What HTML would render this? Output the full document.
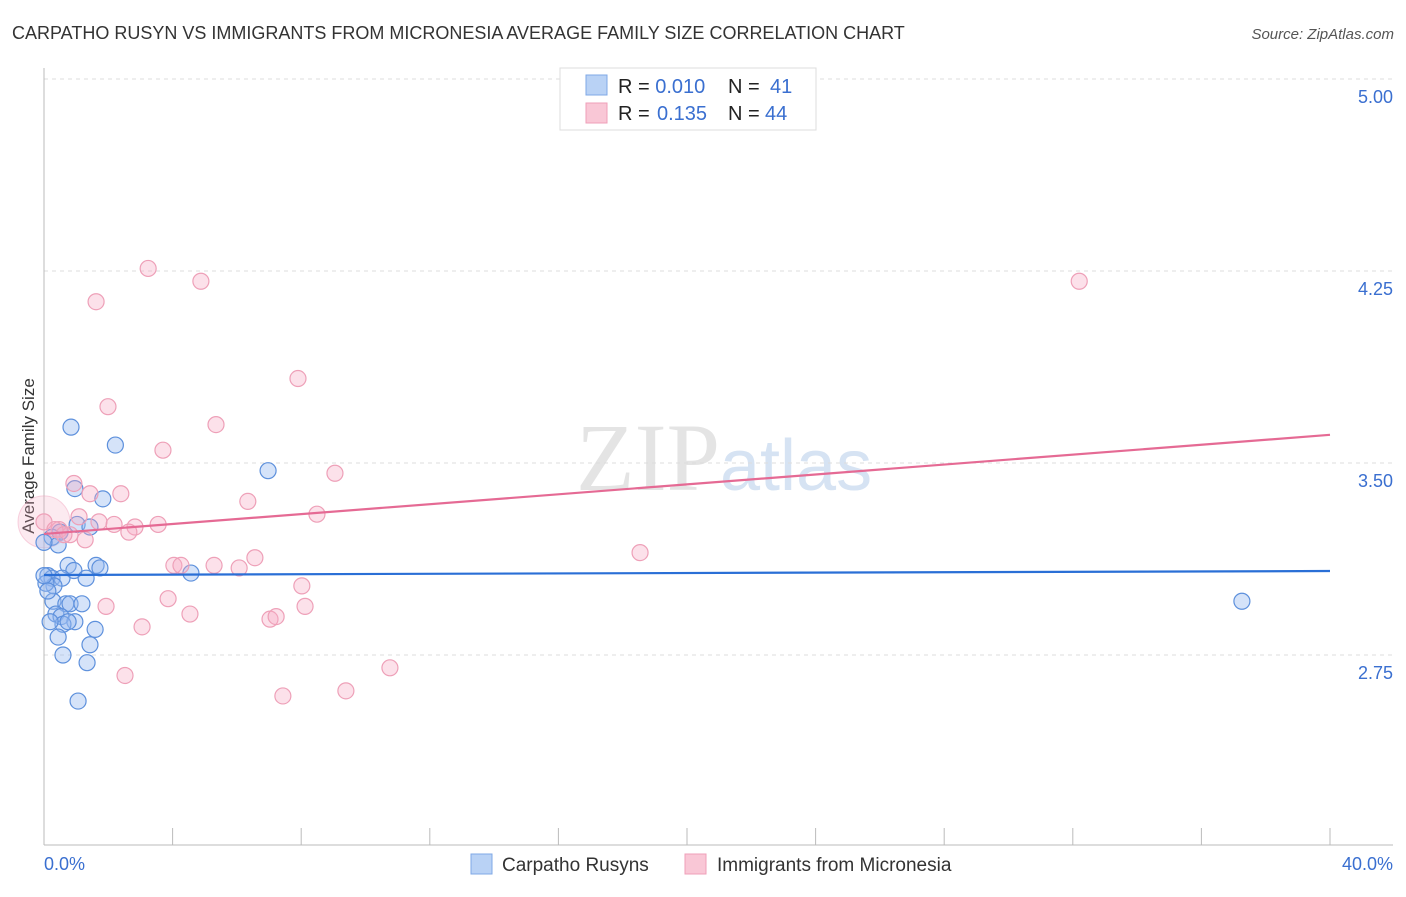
<!DOCTYPE html>
<html><head><meta charset="utf-8"><style>
body{margin:0;background:#fff;font-family:"Liberation Sans",sans-serif}
</style></head><body>
<svg width="1406" height="892" xmlns="http://www.w3.org/2000/svg" font-family="Liberation Sans, sans-serif">
<text x="12" y="39" font-size="18" fill="#333">CARPATHO RUSYN VS IMMIGRANTS FROM MICRONESIA AVERAGE FAMILY SIZE CORRELATION CHART</text>
<text x="1394" y="39" font-size="15" fill="#555" font-style="italic" text-anchor="end">Source: ZipAtlas.com</text>
<text x="720" y="490" font-size="96" fill="#e4e4e4" text-anchor="end" font-family="Liberation Serif, serif">ZIP</text>
<text x="720" y="490" font-size="72" fill="#d6e3f3">atlas</text>
<g id="grid"></g>
<line x1="44" y1="68" x2="44" y2="845" stroke="#bbb"/>
<line x1="44" y1="845" x2="1393" y2="845" stroke="#bbb"/>
<g id="xt"></g>
<text x="34" y="456" font-size="17" fill="#333" text-anchor="middle" transform="rotate(-90 34 456)">Average Family Size</text>
<text x="44" y="870" font-size="18" fill="#3a6fd0">0.0%</text>
<text x="1393" y="870" font-size="18" fill="#3a6fd0" text-anchor="end">40.0%</text>
<g id="pts"></g>
<g>
<rect x="560" y="68" width="256" height="62" fill="#fff" stroke="#ddd"/>
<rect x="586" y="75" width="21" height="20" fill="#b9d2f5" stroke="#7fa8e6"/>
<rect x="586" y="103" width="21" height="20" fill="#f9c7d6" stroke="#ef9fb8"/>
<text x="618" y="93" font-size="20" fill="#222">R = <tspan fill="#3a6fd0">0.010</tspan><tspan x="728">N = </tspan><tspan x="770" fill="#3a6fd0">41</tspan></text>
<text x="618" y="120" font-size="20" fill="#222">R = <tspan x="657" fill="#3a6fd0">0.135</tspan><tspan x="728">N = </tspan><tspan x="765" fill="#3a6fd0">44</tspan></text>
</g>
<g>
<rect x="471" y="854" width="21" height="20" fill="#b9d2f5" stroke="#7fa8e6"/>
<text x="502" y="871" font-size="19" fill="#333">Carpatho Rusyns</text>
<rect x="685" y="854" width="21" height="20" fill="#f9c7d6" stroke="#ef9fb8"/>
<text x="717" y="871" font-size="19" fill="#333">Immigrants from Micronesia</text>
</g>
</svg>
<script>
const yTicks=[5.00,4.25,3.50,2.75];
const xTickPcts=[0,5,10,15,20,25,30,35,40,45,50];
const blueX=[0.84,2.22,6.97,0.96,1.83,1.03,1.43,0.5,0.25,0.44,0,1.62,0.75,0.93,1.74,4.57,0.12,0.25,1.31,0.56,0.31,0.06,0.28,0.68,0.81,0.37,0.53,0.96,0.59,1.59,1.43,0.59,1.34,1.06,37.26,0,0.12,0.44,1.18,0.75,0.19];
const blueY=[3.64,3.57,3.47,3.40,3.36,3.26,3.25,3.23,3.21,3.18,3.19,3.10,3.10,3.08,3.09,3.07,3.06,3.05,3.05,3.05,3.02,3.03,2.96,2.95,2.95,2.91,2.90,2.88,2.87,2.85,2.79,2.75,2.72,2.57,2.96,3.06,3.00,2.82,2.95,2.88,2.88];
const pinkX=[3.24,4.88,1.62,32.2,7.9,1.99,5.35,3.7,9.05,0.93,1.43,2.39,6.34,8.49,1.09,1.71,3.55,0.47,2.18,2.83,2.64,0.81,1.28,0,6.56,4.04,4.26,5.29,6.07,18.54,8.02,3.86,1.93,8.12,4.54,7.03,7.22,3.05,10.76,2.52,9.39,7.43,0.34,0.62];
const pinkY=[4.26,4.21,4.13,4.21,3.83,3.72,3.65,3.55,3.46,3.42,3.38,3.38,3.35,3.30,3.29,3.27,3.26,3.24,3.26,3.25,3.23,3.22,3.20,3.27,3.13,3.10,3.10,3.10,3.09,3.15,3.02,2.97,2.94,2.94,2.91,2.89,2.90,2.86,2.70,2.67,2.61,2.59,3.24,3.22];
const blueLine=[3.0625,3.078];
const pinkLine=[3.223,3.61];
const X=p=>44+p*32.15, Y=v=>79+(5-v)*256;
const NS="http://www.w3.org/2000/svg";
function mk(t,a,parent){const e=document.createElementNS(NS,t);for(const k in a)e.setAttribute(k,a[k]);document.getElementById(parent).appendChild(e);return e;}
yTicks.forEach(v=>{
 const l=mk('line',{x1:44,x2:1393,y1:Y(v),y2:Y(v),stroke:'#ddd','stroke-dasharray':'4,4'},'grid');
 
 
 const t=mk('text',{x:1393,y:Y(v)+24,'font-size':18,fill:'#3a6fd0','text-anchor':'end'},'grid');
 t.textContent=v.toFixed(2);
 
 
});
xTickPcts.forEach(p=>{
 const xx=44+p*(1330-44)/50;
 const l=mk('line',{x1:xx,x2:xx,y1:828,y2:845,stroke:'#bbb'},'xt');
 
 
});
const big=mk('circle',{cx:X(0),cy:Y(3.27),r:26,fill:'rgba(245,170,195,0.25)',stroke:'rgba(238,150,180,0.4)'},'pts');


blueX.forEach((x,i)=>{
 const c=mk('circle',{cx:X(x),cy:Y(blueY[i]),r:8,fill:'rgba(150,185,240,0.4)',stroke:'#5d90dc','stroke-width':1.2},'pts');
 
 
});
pinkX.forEach((x,i)=>{
 const c=mk('circle',{cx:X(x),cy:Y(pinkY[i]),r:8,fill:'rgba(245,170,195,0.35)',stroke:'#eea0b8','stroke-width':1.2},'pts');
 
 
});
const bl=mk('line',{x1:X(0),x2:X(40),y1:Y(blueLine[0]),y2:Y(blueLine[1]),stroke:'#2a6fd6','stroke-width':2.2},'pts');


const pl=mk('line',{x1:X(0),x2:X(40),y1:Y(pinkLine[0]),y2:Y(pinkLine[1]),stroke:'#e56a94','stroke-width':2.2},'pts');


</script>
</body></html>
